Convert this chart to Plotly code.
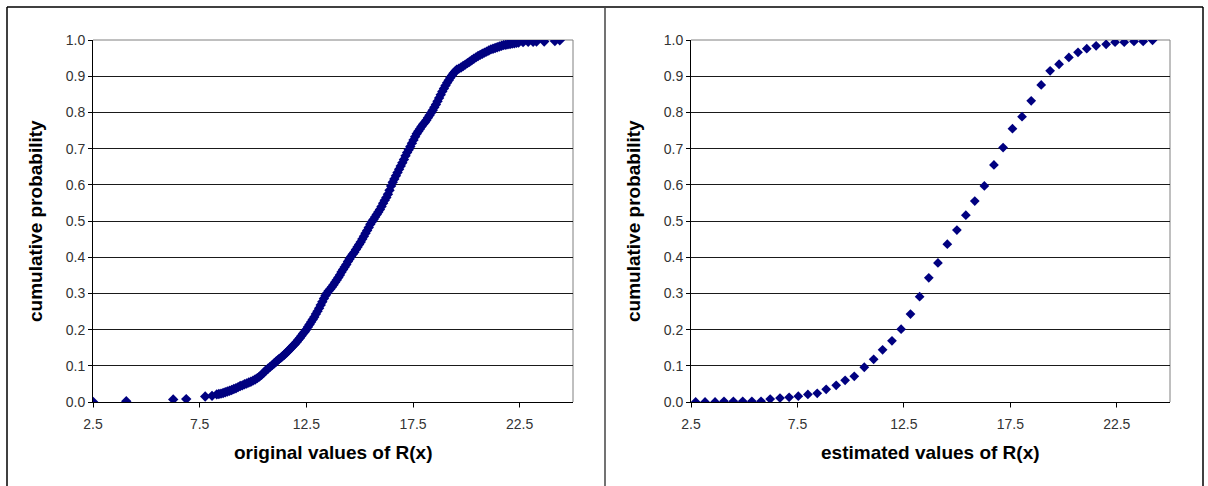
import plotly.graph_objects as go

# ---------------- data ----------------
orig_x = [2.51, 4.06, 6.26, 6.87, 7.76, 8.08,
          8.30, 8.40, 8.50, 8.60, 8.70, 8.80, 8.90, 9.00, 9.10, 9.20, 9.30, 9.40, 9.50, 9.60,
          9.70, 9.80, 9.90, 10.00, 10.10, 10.20, 10.30, 10.40, 10.50, 10.60, 10.70, 10.80, 10.90,
          11.00, 11.075, 11.15, 11.225, 11.30, 11.375, 11.45, 11.525, 11.60, 11.675, 11.75, 11.825,
          11.90, 11.975, 12.05, 12.125, 12.20, 12.275, 12.35, 12.425, 12.50, 12.575, 12.65, 12.725,
          12.80, 12.875, 12.95, 13.025, 13.10, 13.175, 13.25, 13.325, 13.40, 13.475, 13.55, 13.625,
          13.70, 13.775, 13.85, 13.925, 14.00, 14.075, 14.15, 14.225, 14.30, 14.375, 14.45, 14.525,
          14.60, 14.675, 14.75, 14.825, 14.90, 14.975, 15.05, 15.125, 15.20, 15.275, 15.35, 15.425,
          15.50, 15.575, 15.65, 15.725, 15.80, 15.875, 15.95, 16.025, 16.10, 16.175, 16.25, 16.325,
          16.40, 16.475, 16.55, 16.625, 16.70, 16.775, 16.85, 16.925, 17.00, 17.075, 17.15, 17.225,
          17.30, 17.375, 17.45, 17.525, 17.60, 17.675, 17.75, 17.825, 17.90, 17.975, 18.05, 18.125,
          18.20, 18.275, 18.35, 18.425, 18.50, 18.575, 18.65, 18.725, 18.80, 18.875, 18.95, 19.025,
          19.10, 19.175, 19.25, 19.325, 19.40, 19.475, 19.55,
          19.65, 19.75, 19.85, 19.95, 20.05, 20.15, 20.25, 20.35, 20.45, 20.55, 20.65, 20.75,
          20.85, 20.95, 21.05, 21.15, 21.25, 21.35, 21.45, 21.55, 21.65, 21.75, 21.85, 21.95,
          22.05, 22.15, 22.25, 22.35, 22.45, 22.66, 22.90, 23.13, 23.29, 23.65, 24.15, 24.38]
orig_p = [0.000, 0.002, 0.007, 0.008, 0.015, 0.017,
          0.021, 0.022, 0.023, 0.025, 0.027, 0.029, 0.031, 0.033, 0.036, 0.038, 0.041, 0.044, 0.046, 0.049,
          0.051, 0.054, 0.056, 0.059, 0.062, 0.066, 0.070, 0.075, 0.081, 0.087, 0.092, 0.097, 0.102,
          0.107, 0.111, 0.115, 0.119, 0.122, 0.126, 0.130, 0.134, 0.138, 0.143, 0.147, 0.152,
          0.157, 0.161, 0.166, 0.172, 0.177, 0.183, 0.189, 0.194, 0.200, 0.207, 0.214, 0.221,
          0.228, 0.235, 0.243, 0.251, 0.259, 0.268, 0.277, 0.286, 0.294, 0.301, 0.307, 0.312,
          0.318, 0.324, 0.331, 0.337, 0.344, 0.351, 0.359, 0.366, 0.373, 0.380, 0.388, 0.395,
          0.402, 0.408, 0.414, 0.421, 0.428, 0.435, 0.442, 0.450, 0.458, 0.466, 0.474, 0.482,
          0.491, 0.498, 0.504, 0.511, 0.518, 0.525, 0.532, 0.540, 0.549, 0.557, 0.565, 0.574,
          0.585, 0.597, 0.607, 0.616, 0.625, 0.634, 0.643, 0.652, 0.661, 0.670, 0.680, 0.689,
          0.697, 0.706, 0.715, 0.724, 0.733, 0.741, 0.748, 0.754, 0.761, 0.767, 0.772, 0.778,
          0.785, 0.792, 0.799, 0.806, 0.814, 0.822, 0.831, 0.840, 0.849, 0.858, 0.866, 0.874,
          0.882, 0.889, 0.896, 0.902, 0.908, 0.913, 0.918,
          0.921, 0.924, 0.928, 0.932, 0.936, 0.940, 0.944, 0.948, 0.952, 0.956, 0.959, 0.962,
          0.965, 0.968, 0.971, 0.974, 0.976, 0.978, 0.980, 0.982, 0.984, 0.986, 0.987, 0.988,
          0.989, 0.990, 0.991, 0.992, 0.993, 0.994, 0.995, 0.995, 0.996, 0.996, 0.997, 0.999]

est_x = [2.72, 3.16, 3.63, 4.05, 4.49, 4.93, 5.36, 5.79, 6.22, 6.68,
         7.11, 7.54, 7.99, 8.43, 8.85, 9.32, 9.74, 10.17, 10.64, 11.08,
         11.50, 11.94, 12.37, 12.81, 13.24, 13.67, 14.10, 14.54, 14.99, 15.41,
         15.83, 16.28, 16.73, 17.16, 17.60, 18.05, 18.48, 18.95, 19.37, 19.79,
         20.25, 20.68, 21.09, 21.53, 22.00, 22.42, 22.85, 23.31, 23.74, 24.18]
est_p = [0.000, 0.000, 0.000, 0.002, 0.002, 0.002, 0.002, 0.002, 0.008, 0.011,
         0.013, 0.016, 0.021, 0.024, 0.035, 0.046, 0.060, 0.071, 0.096, 0.118,
         0.144, 0.169, 0.201, 0.243, 0.291, 0.343, 0.384, 0.436, 0.475, 0.516,
         0.555, 0.597, 0.655, 0.703, 0.755, 0.788, 0.832, 0.876, 0.915, 0.933,
         0.952, 0.966, 0.976, 0.984, 0.988, 0.994, 0.994, 0.996, 0.996, 0.999]

x_ticks = [2.5, 7.5, 12.5, 17.5, 22.5]
y_ticks = [0.0, 0.1, 0.2, 0.3, 0.4, 0.5, 0.6, 0.7, 0.8, 0.9, 1.0]
y_title = "cumulative probability"
x_titles = ["original values of R(x)", "estimated values of R(x)"]

# ---------------- figure ----------------
W, H = 1208, 486
NAVY = "#000080"
FONT = "Liberation Sans, Arial, sans-serif"

fig = go.Figure()
fig.add_trace(go.Scatter(x=orig_x, y=orig_p, mode="markers", xaxis="x", yaxis="y",
                         marker=dict(symbol="diamond", size=8, color=NAVY, line=dict(width=0)),
                         showlegend=False))
fig.add_trace(go.Scatter(x=est_x, y=est_p, mode="markers", xaxis="x2", yaxis="y2",
                         marker=dict(symbol="diamond", size=7.5, color=NAVY, line=dict(width=0)),
                         showlegend=False))

def px_x(p):
    return p / W

def px_y(p):
    return 1 - p / H

ydom = [px_y(402), px_y(40)]
dom1 = [px_x(93), px_x(573)]
dom2 = [px_x(691), px_x(1170)]

xax = dict(range=[2.5, 25], tickvals=x_ticks, ticktext=[str(v) for v in x_ticks],
           showgrid=False, zeroline=False, showline=True, linecolor="black", linewidth=1,
           ticks="outside", ticklen=9, tickcolor="black", tickwidth=1, automargin=False,
           tickfont=dict(family=FONT, size=14, color="#333"), fixedrange=True)
yax = dict(range=[0, 1], tickvals=y_ticks, ticktext=["%.1f" % v for v in y_ticks],
           showgrid=True, gridcolor="#1a1a1a", gridwidth=1, zeroline=False,
           showline=True, linecolor="black", linewidth=1,
           ticks="outside", ticklen=4, tickcolor="black", tickwidth=1, automargin=False,
           tickfont=dict(family=FONT, size=14, color="#333"), fixedrange=True)

fig.update_layout(
    width=W, height=H, autosize=False,
    margin=dict(l=0, r=0, t=0, b=0, pad=0),
    paper_bgcolor="white", plot_bgcolor="white",
    xaxis=dict(domain=dom1, anchor="y", **xax),
    yaxis=dict(domain=ydom, anchor="x", **yax),
    xaxis2=dict(domain=dom2, anchor="y2", **xax),
    yaxis2=dict(domain=ydom, anchor="x2", **yax),
)

# white masks shortening x tick marks to 5px (ticks drawn longer to push labels down)
for d in (dom1, dom2):
    fig.add_shape(type="rect", xref="paper", yref="paper", x0=d[0] - 0.01, x1=d[1] + 0.005,
                  y0=px_y(412), y1=px_y(407.5), fillcolor="white", line=dict(width=0), layer="above")

# plot-area borders (top and right in gray)
for d in (dom1, dom2):
    fig.add_shape(type="line", xref="paper", yref="paper", x0=d[0], x1=d[1], y0=ydom[1], y1=ydom[1],
                  line=dict(color="#808080", width=1), layer="below")
    fig.add_shape(type="line", xref="paper", yref="paper", x0=d[1], x1=d[1], y0=ydom[0], y1=ydom[1],
                  line=dict(color="#808080", width=1), layer="below")

# panel frames
frame = dict(color="black", width=1.5)
fig.add_shape(type="line", xref="paper", yref="paper", x0=px_x(7), x1=px_x(1203), y0=px_y(7), y1=px_y(7), line=frame)
fig.add_shape(type="line", xref="paper", yref="paper", x0=px_x(7), x1=px_x(7), y0=px_y(7), y1=0, line=frame)
fig.add_shape(type="line", xref="paper", yref="paper", x0=px_x(605), x1=px_x(605), y0=px_y(7), y1=0,
              line=dict(color="#444", width=1.5))
fig.add_shape(type="line", xref="paper", yref="paper", x0=px_x(1203), x1=px_x(1203), y0=px_y(7), y1=0, line=frame)

# axis titles
tfont = dict(family=FONT, size=19, color="black")
for cx, txt in ((333, x_titles[0]), (930, x_titles[1])):
    fig.add_annotation(x=px_x(cx), y=px_y(452), xref="paper", yref="paper", text="<b>%s</b>" % txt,
                       showarrow=False, font=tfont, xanchor="center", yanchor="middle")
for cx in (35, 633):
    fig.add_annotation(x=px_x(cx), y=px_y(221), xref="paper", yref="paper", text="<b>%s</b>" % y_title,
                       showarrow=False, font=tfont, textangle=-90, xanchor="center", yanchor="middle")

fig.write_html("out.html")
